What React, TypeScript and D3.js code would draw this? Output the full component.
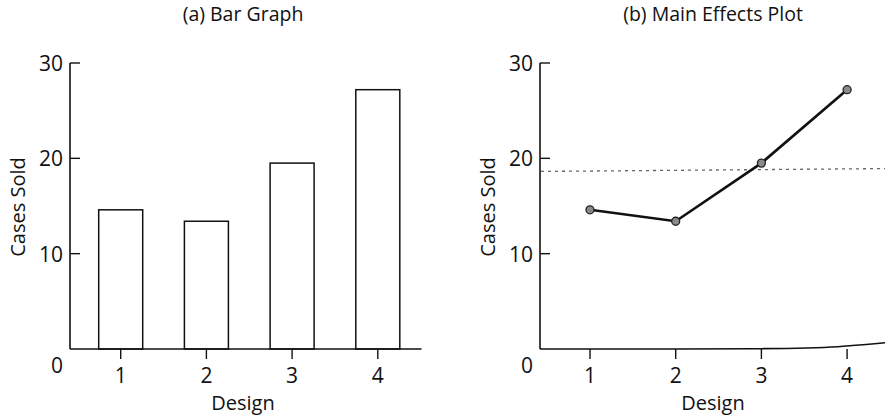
import React from "react";
import * as d3 from "d3";

const designs = [1, 2, 3, 4];
const casesSold = [14.6, 13.4, 19.5, 27.2];
const yTicks = [10, 20, 30];
const titles = ["(a) Bar Graph", "(b) Main Effects Plot"];
const xTitle = "Design";
const yTitle = "Cases Sold";

const W = 885;
const H = 415;
const FONT = "'Open Sans', 'Noto Sans', sans-serif";

function Panel({ kind, axisX, firstTick, title, titleX }: any) {
  const step = 85.7;
  const x = d3.scaleLinear().domain([1, 4]).range([firstTick, firstTick + 3 * step]);
  const y = d3.scaleLinear().domain([0, 30]).range([349, 63]);
  const barW = 44;
  const mean = d3.mean(casesSold) as number;
  const line = d3
    .line<number>()
    .x((_, i) => x(designs[i]))
    .y((d) => y(d));

  const rightEnd = kind === "bar" ? x(4.51) : W;
  const baseline =
    kind === "bar"
      ? `M${axisX},${y(0)}H${rightEnd}`
      : (() => {
          const pts: [number, number][] = [
            [axisX, y(0)],
            [x(3.3), y(0)],
            [x(3.9), y(0.2)],
            [W, y(0.65)],
          ];
          return d3.line().curve(d3.curveBasis)(pts) as string;
        })();

  return (
    <g>
      <text x={titleX} y={21} textAnchor="middle" fontSize={19.5} fontFamily={FONT} fill="#111">
        {title}
      </text>
      {kind === "effects" && (
        <line
          x1={axisX + 1}
          x2={W}
          y1={y(mean - 0.05)}
          y2={y(mean + 0.25)}
          stroke="#666"
          strokeWidth={1.3}
          strokeDasharray="3,4"
        />
      )}
      {kind === "bar" &&
        designs.map((d, i) => (
          <rect
            key={d}
            x={x(d) - barW / 2}
            y={y(casesSold[i])}
            width={barW}
            height={y(0) - y(casesSold[i])}
            fill="#fff"
            stroke="#111"
            strokeWidth={1.5}
          />
        ))}
      <line x1={axisX} x2={axisX} y1={y(30)} y2={y(0)} stroke="#111" strokeWidth={1.6} />
      <path d={baseline} fill="none" stroke="#111" strokeWidth={1.6} />
      {yTicks.map((t) => (
        <g key={t}>
          <line x1={axisX} x2={axisX + 10} y1={y(t)} y2={y(t)} stroke="#111" strokeWidth={1.4} />
          <text
            x={axisX - 7}
            y={y(t) + 8}
            textAnchor="end"
            fontSize={21}
            fontFamily={FONT}
            fill="#111"
          >
            {t}
          </text>
        </g>
      ))}
      <text
        x={axisX - 7}
        y={y(0) + 24}
        textAnchor="end"
        fontSize={21}
        fontFamily={FONT}
        fill="#111"
      >
        0
      </text>
      {designs.map((d) => (
        <g key={d}>
          <line x1={x(d)} x2={x(d)} y1={y(0)} y2={y(0) + 10} stroke="#111" strokeWidth={1.4} />
          <text
            x={x(d)}
            y={y(0) + 34}
            textAnchor="middle"
            fontSize={21}
            fontFamily={FONT}
            fill="#111"
          >
            {d}
          </text>
        </g>
      ))}
      <text x={titleX} y={y(0) + 61} textAnchor="middle" fontSize={20} fontFamily={FONT} fill="#111">
        {xTitle}
      </text>
      <text
        transform={`translate(${axisX - 45},${y(0) - 142}) rotate(-90)`}
        textAnchor="middle"
        fontSize={20}
        fontFamily={FONT}
        fill="#111"
      >
        {yTitle}
      </text>
      {kind === "effects" && (
        <g>
          <path d={line(casesSold) as string} fill="none" stroke="#111" strokeWidth={2.6} />
          {designs.map((d, i) => (
            <circle
              key={d}
              cx={x(d)}
              cy={y(casesSold[i])}
              r={4}
              fill="#8a8a8a"
              stroke="#222"
              strokeWidth={1.3}
            />
          ))}
        </g>
      )}
    </g>
  );
}

export default function App() {
  return (
    <svg
      width={W}
      height={H}
      style={{ position: "absolute", left: 0, top: 0, background: "#fff" }}
    >
      <rect width={W} height={H} fill="#fff" />
      <Panel kind="bar" axisX={70} firstTick={120.7} title={titles[0]} titleX={243} />
      <Panel kind="effects" axisX={540} firstTick={590} title={titles[1]} titleX={713} />
    </svg>
  );
}
